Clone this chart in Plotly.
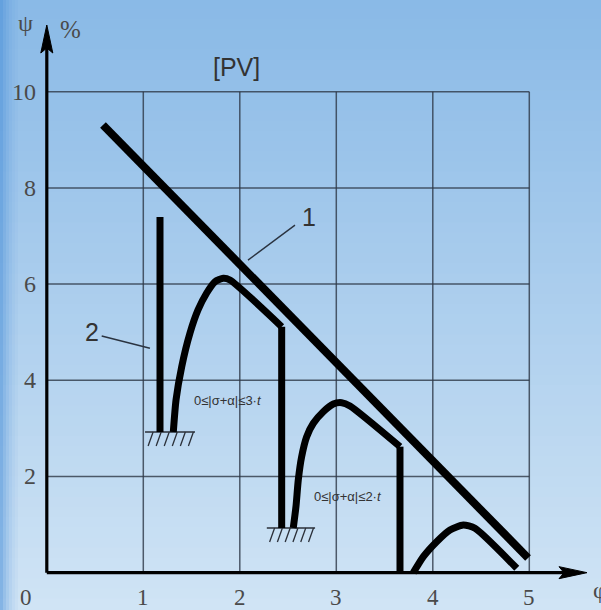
import plotly.graph_objects as go
import numpy as np

# ---------------- data ----------------
x_ticks = [1, 2, 3, 4, 5]
y_ticks = [2, 4, 6, 8, 10]
x_tick_labels = ["1", "2", "3", "4", "5"]
y_tick_labels = ["2", "4", "6", "8", "10"]

# line 1 (straight limit line)
line1_x = [0.582, 4.987]
line1_y = [9.308, 0.306]

# curve 2: vertical stem
stem_x = [1.173, 1.173]
stem_y = [2.925, 7.395]

# curve 2: first arch, then drop
arch1_x = [1.311, 1.339, 1.398, 1.484, 1.567, 1.657, 1.743, 1.829, 1.898, 2.434]
arch1_y = [2.925, 3.591, 4.283, 4.983, 5.462, 5.815, 6.050, 6.121, 6.085, 5.114]
drop1_x = [2.434, 2.434]
drop1_y = [5.114, 0.93]

# curve 2: second arch, then drop
arch2_x = [2.554, 2.582, 2.606, 2.641, 2.693, 2.762, 2.865, 2.969, 3.056, 3.142, 3.660]
arch2_y = [0.93, 1.372, 1.927, 2.412, 2.827, 3.106, 3.347, 3.507, 3.534, 3.466, 2.620]
drop2_x = [3.660, 3.660]
drop2_y = [2.620, 0.0]

# curve 2: third arch
arch3_x = [3.798, 3.902, 4.040, 4.178, 4.316, 4.437, 4.870]
arch3_y = [0.0, 0.333, 0.644, 0.888, 0.992, 0.923, 0.091]

# ground (support) symbols: [x_start, x_end, y]
grounds = [(1.018, 1.536, 2.925), (2.28, 2.78, 0.93)]

# leader lines
leader1_x = [2.085, 2.572]
leader1_y = [6.497, 7.225]
leader2_x = [0.569, 1.069]
leader2_y = [4.921, 4.665]

# ---------------- figure geometry ----------------
W, H = 601, 610
X_MIN, X_MAX = -0.485, 5.743
Y_MIN, Y_MAX = -0.776, 11.906
px_x = (X_MAX - X_MIN) / W   # data units per pixel (x)
px_y = (Y_MAX - Y_MIN) / H   # data units per pixel (y)

fig = go.Figure()

shapes = []
# background gradient (top medium blue -> bottom light blue)
top = np.array([138, 186, 231])
bot = np.array([208, 228, 245])
n = 60
for i in range(n):
    t = i / (n - 1)
    c = top * (1 - t) + bot * t
    shapes.append(dict(type="rect", xref="paper", yref="paper",
                       x0=0, x1=1, y0=1 - (i + 1) / n, y1=1 - i / n + 0.002,
                       fillcolor=f"rgb({int(c[0])},{int(c[1])},{int(c[2])})",
                       line=dict(width=0), layer="below"))
# darker left strip
for i, a in enumerate([0.55, 0.4, 0.28, 0.18, 0.1, 0.05]):
    shapes.append(dict(type="rect", xref="paper", yref="paper",
                       x0=i * 3 / W, x1=(i + 1) * 3 / W, y0=0, y1=1,
                       fillcolor=f"rgba(70,140,215,{a})",
                       line=dict(width=0), layer="below"))

grid_col = "rgba(45,55,70,0.8)"
for xv in x_ticks:
    shapes.append(dict(type="line", xref="x", yref="y", x0=xv, x1=xv, y0=0, y1=max(y_ticks),
                       line=dict(color=grid_col, width=1.5), layer="below"))
for yv in y_ticks:
    shapes.append(dict(type="line", xref="x", yref="y", x0=0, x1=max(x_ticks), y0=yv, y1=yv,
                       line=dict(color=grid_col, width=1.5), layer="below"))

# axes with arrows
y_tip = Y_MAX - 25 * px_y
x_tip = X_MIN + 587 * px_x
shapes.append(dict(type="line", xref="x", yref="y", x0=0, x1=0, y0=0, y1=y_tip - 10 * px_y,
                   line=dict(color="black", width=3.2)))
shapes.append(dict(type="line", xref="x", yref="y", x0=0, x1=x_tip - 10 * px_x, y0=0, y1=0,
                   line=dict(color="black", width=3.2)))

fig.update_layout(shapes=shapes)

# arrowheads
ah_len, ah_half, ah_notch = 28, 6, 5
fig.add_trace(go.Scatter(
    x=[0, -ah_half * px_x, 0, ah_half * px_x, 0],
    y=[y_tip, y_tip - ah_len * px_y, y_tip - (ah_len - ah_notch) * px_y, y_tip - ah_len * px_y, y_tip],
    mode="lines", fill="toself", fillcolor="black", line=dict(color="black", width=1),
    hoverinfo="skip", showlegend=False))
fig.add_trace(go.Scatter(
    x=[x_tip, x_tip - ah_len * px_x, x_tip - (ah_len - ah_notch) * px_x, x_tip - ah_len * px_x, x_tip],
    y=[0, ah_half * px_y, 0, -ah_half * px_y, 0],
    mode="lines", fill="toself", fillcolor="black", line=dict(color="black", width=1),
    hoverinfo="skip", showlegend=False))

# ground hatches
for (g0, g1, gy) in grounds:
    fig.add_trace(go.Scatter(x=[g0, g1], y=[gy, gy], mode="lines",
                             line=dict(color="#2a2f38", width=1.6),
                             hoverinfo="skip", showlegend=False))
    hx, hy = [], []
    for k in range(6):
        xs = g0 + (k + 1) * (g1 - g0) / 6.2
        hx += [xs, xs - 5 * px_x, None]
        hy += [gy, gy - 14 * px_y, None]
    fig.add_trace(go.Scatter(x=hx, y=hy, mode="lines",
                             line=dict(color="#2a2f38", width=1.3),
                             hoverinfo="skip", showlegend=False))

# leader lines
for lx, ly in [(leader1_x, leader1_y), (leader2_x, leader2_y)]:
    fig.add_trace(go.Scatter(x=lx, y=ly, mode="lines",
                             line=dict(color="#2a3340", width=1.4),
                             hoverinfo="skip", showlegend=False))

# main curves
fig.add_trace(go.Scatter(x=line1_x, y=line1_y, mode="lines",
                         line=dict(color="black", width=8), showlegend=False))
for cx, cy in [(stem_x, stem_y), (drop1_x, drop1_y), (drop2_x, drop2_y)]:
    fig.add_trace(go.Scatter(x=cx, y=cy, mode="lines",
                             line=dict(color="black", width=7), showlegend=False))
for cx, cy in [(arch1_x, arch1_y), (arch2_x, arch2_y), (arch3_x, arch3_y)]:
    fig.add_trace(go.Scatter(x=cx, y=cy, mode="lines",
                             line=dict(color="black", width=7, shape="spline", smoothing=0.6),
                             showlegend=False))

serif = "Liberation Serif, DejaVu Serif, serif"
sans = "Liberation Sans, Arial, sans-serif"
ann = []
lab_col = "#4a4a4a"
for xv, t in zip(x_ticks, x_tick_labels):
    ann.append(dict(x=xv, y=0, text=t, showarrow=False, yshift=-25, yanchor="middle",
                    font=dict(family=serif, size=23, color=lab_col)))
ann.append(dict(x=0, y=0, text="0", showarrow=False, yshift=-25, xshift=-21, yanchor="middle",
                font=dict(family=serif, size=23, color=lab_col)))
for yv, t in zip(y_ticks, y_tick_labels):
    ann.append(dict(x=0, y=yv, text=t, showarrow=False, xanchor="right", xshift=-9, yanchor="middle",
                    font=dict(family=serif, size=24, color=lab_col)))
ann.append(dict(x=0, y=y_tip, text="ψ", showarrow=False, xshift=-21, yshift=2,
                font=dict(family=serif, size=24, color=lab_col)))
ann.append(dict(x=0, y=y_tip, text="%", showarrow=False, xshift=24, yshift=-4,
                font=dict(family=serif, size=25, color=lab_col)))
ann.append(dict(x=x_tip, y=0, text="φ", showarrow=False, xanchor="left", xshift=4, yshift=-17,
                font=dict(family=serif, size=24, color=lab_col)))
ann.append(dict(xref="paper", yref="paper", x=236 / W, y=1 - 67 / H, text="[PV]", showarrow=False,
                xanchor="center", yanchor="middle",
                font=dict(family=sans, size=25, color="#333333")))
ann.append(dict(x=leader1_x[1], y=leader1_y[1], text="1", showarrow=False, xshift=14, yshift=8,
                yanchor="middle", font=dict(family=sans, size=25, color="#333333")))
ann.append(dict(x=leader2_x[0], y=leader2_y[0], text="2", showarrow=False, xshift=-10, yshift=4,
                yanchor="middle", font=dict(family=sans, size=25, color="#333333")))
ann.append(dict(x=1.877, y=3.59, text="0≤|σ+α|≤3·<i>t</i>", showarrow=False, yanchor="middle",
                font=dict(family=sans, size=13, color="#333333")))
ann.append(dict(x=3.124, y=1.574, text="0≤|σ+α|≤2·<i>t</i>", showarrow=False, yanchor="middle",
                font=dict(family=sans, size=13, color="#333333")))

fig.update_layout(
    width=W, height=H,
    margin=dict(l=0, r=0, t=0, b=0),
    paper_bgcolor="rgb(170,205,238)", plot_bgcolor="rgba(0,0,0,0)",
    xaxis=dict(range=[X_MIN, X_MAX], visible=False, fixedrange=True),
    yaxis=dict(range=[Y_MIN, Y_MAX], visible=False, fixedrange=True),
    annotations=ann,
    showlegend=False,
)

fig.write_html("out.html")
